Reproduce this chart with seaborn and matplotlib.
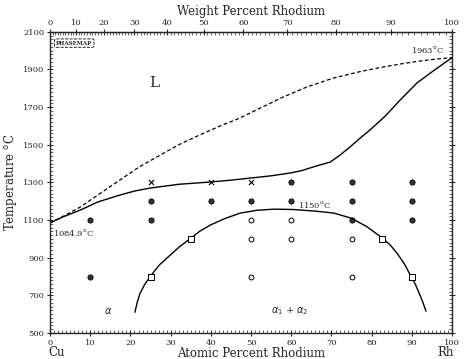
import matplotlib
matplotlib.use('Agg')
import numpy as np
import pandas as pd
import seaborn as sns
import matplotlib.pyplot as plt
from matplotlib.ticker import MultipleLocator

# Cu-Rh phase diagram
liquidus_x = [0, 4, 7.5, 12, 17.4, 22, 27.4, 32, 37, 42, 47, 52, 58, 64, 70.6, 77, 83, 88, 92, 96, 100]
liquidus_t = [1085, 1128, 1169, 1235, 1313, 1380, 1445, 1500, 1550, 1597, 1640, 1692, 1754, 1808,
              1855, 1888, 1914, 1932, 1945, 1955, 1963]

solidus_x = [0, 3, 7.5, 12, 17.4, 21, 24.9, 32, 39.8, 45, 49.8, 55, 59.7, 62.5, 64.7, 67, 69.7,
             72, 74.6, 77, 79.6, 83.5, 87.1, 91.3, 95.5, 100]
solidus_t = [1085, 1115, 1153, 1197, 1233, 1254, 1270, 1290, 1302, 1312, 1323, 1335, 1350, 1362,
             1377, 1392, 1408, 1443, 1488, 1533, 1579, 1655, 1738, 1829, 1895, 1963]

gap_x = [21.1, 21.7, 22.4, 23.6, 24.9, 27.2, 29.9, 32.3, 34.8, 37.2, 39.8, 43.5, 47.3, 51.5, 55.7,
         60.5, 65.7, 70.6, 74.9, 78.8, 82.3, 84.5, 86.3, 88.2, 89.8, 90.9, 91.8, 92.7, 93.5]
gap_t = [610, 665, 712, 760, 800, 862, 914, 960, 1000, 1040, 1073, 1108, 1137, 1152, 1158,
         1156, 1148, 1137, 1110, 1065, 1010, 970, 924, 865, 800, 757, 712, 665, 616]

# experimental points
cross_x = [25, 40, 50]
cross_t = [1300, 1300, 1300]
filled_x = [60, 75, 90, 25, 40, 50, 60, 75, 90, 10, 25, 75, 90, 10]
filled_t = [1300, 1300, 1300, 1200, 1200, 1200, 1200, 1200, 1200, 1100, 1100, 1100, 1100, 800]
open_x = [50, 60, 50, 60, 75, 50, 75]
open_t = [1100, 1100, 1000, 1000, 1000, 800, 800]
square_x = [35, 82.5, 25, 90]
square_t = [1000, 1000, 800, 800]

M_CU = 63.546
M_RH = 102.906


def at2wt(x):
    x = np.asarray(x, dtype=float)
    return 100 * x * M_RH / (x * M_RH + (100 - x) * M_CU)


def wt2at(w):
    w = np.asarray(w, dtype=float)
    return 100 * (w / M_RH) / (w / M_RH + (100 - w) / M_CU)


sns.set_style('ticks')
plt.rcParams['font.family'] = ['DejaVu Serif']

fig = plt.figure(figsize=(4.68, 3.59), dpi=100)
ax = fig.add_axes([0.107, 0.0724, 0.859, 0.839])

sns.lineplot(x=liquidus_x, y=liquidus_t, ax=ax, color='black', lw=0.9,
             linestyle=(0, (3, 2)), sort=False)
sns.lineplot(x=solidus_x, y=solidus_t, ax=ax, color='black', lw=1.0, sort=False)
sns.lineplot(x=gap_x, y=gap_t, ax=ax, color='black', lw=1.0, sort=False)

sns.scatterplot(x=cross_x, y=cross_t, ax=ax, marker='x', s=14, color='black', linewidth=0.8)
sns.scatterplot(x=filled_x, y=filled_t, ax=ax, marker='o', s=14, color='#333333',
                edgecolor='black', linewidth=0.6)
sns.scatterplot(x=open_x, y=open_t, ax=ax, marker='o', s=12, color='white',
                edgecolor='black', linewidth=0.7)
sns.scatterplot(x=square_x, y=square_t, ax=ax, marker='s', s=14, color='white',
                edgecolor='black', linewidth=0.7, zorder=5)

ax.set_xlim(0, 100)
ax.set_ylim(500, 2100)
ax.set_xticks(range(0, 101, 10))
ax.set_yticks(range(500, 2101, 200))
ax.xaxis.set_minor_locator(MultipleLocator(1))
ax.yaxis.set_minor_locator(MultipleLocator(20))
ax.tick_params(which='major', direction='inout', length=5, width=0.8, labelsize=6,
               right=True, pad=1.5)
ax.tick_params(which='minor', direction='in', length=2.5, width=0.5, right=True)
for s in ax.spines.values():
    s.set_linewidth(1.0)

top = ax.secondary_xaxis('top', functions=(at2wt, wt2at))
top.set_xticks(range(0, 101, 10))
top.xaxis.set_minor_locator(MultipleLocator(1))
top.tick_params(which='major', direction='inout', length=5, width=0.8, labelsize=6, pad=1)
top.tick_params(which='minor', direction='in', length=2.5, width=0.5)
top.set_xlabel('Weight Percent Rhodium', fontsize=8.5, labelpad=3)

ax.set_xlabel('Atomic Percent Rhodium', fontsize=8.5)
ax.xaxis.set_label_coords(0.5, -0.045)
ax.set_ylabel('Temperature $^{\\rm o}$C', fontsize=8.5, labelpad=3)

ax.text(26, 1830, 'L', fontsize=11, ha='center', va='center')
ax.text(98, 2004, '1963$^{\\rm o}$C', fontsize=6, ha='right', va='center')
ax.text(0.8, 1036, '1084.9$^{\\rm o}$C', fontsize=6, ha='left', va='center')
ax.text(61.7, 1185, '1150$^{\\rm o}$C', fontsize=6, ha='left', va='center')
ax.text(55, 616, r'$\alpha_1$ + $\alpha_2$', fontsize=7, ha='left', va='center')
ax.text(14.4, 616, r'$\alpha$', fontsize=7, ha='center', va='center')
ax.text(1.5, 2040, 'PHASEMAP', fontsize=4, fontweight='bold', ha='left', va='center',
        bbox=dict(boxstyle='round,pad=0.3', fc='white', ec='black', ls='--', lw=0.6))

fig.text(57 / 468, 1 - 353 / 359, 'Cu', fontsize=8.5, ha='center', va='center')
fig.text(446 / 468, 1 - 353 / 359, 'Rh', fontsize=8.5, ha='center', va='center')

fig.savefig('out.png', dpi=100)
